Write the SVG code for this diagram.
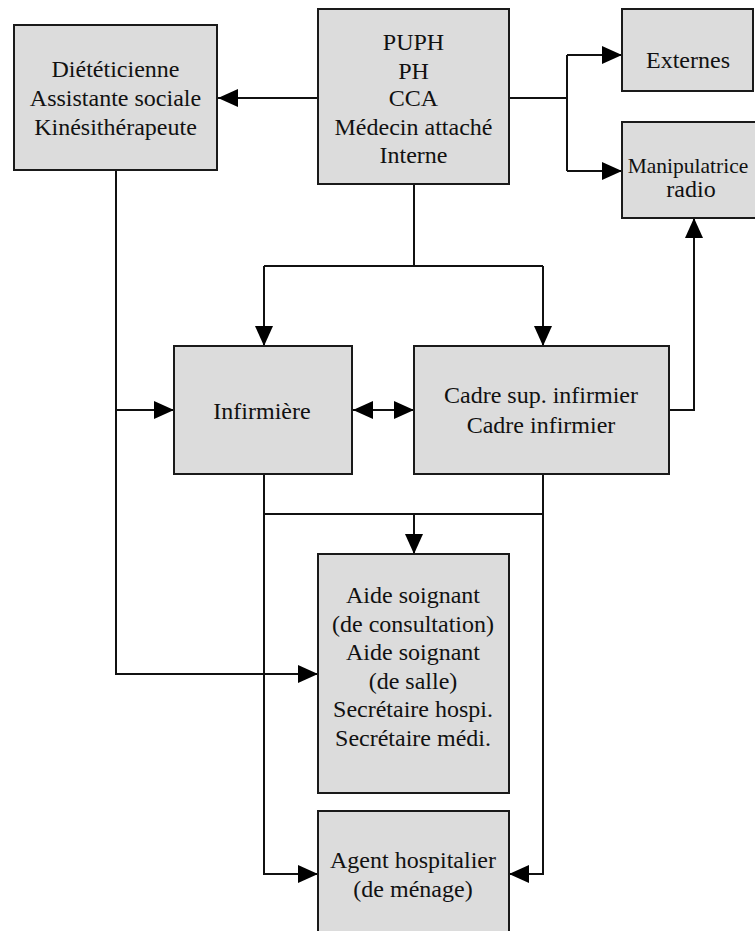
<svg xmlns="http://www.w3.org/2000/svg" width="755" height="931" viewBox="0 0 755 931">
<style>
.box{fill:#dcdcdc;stroke:#1a1a1a;stroke-width:2}
.lbl{font-family:"Liberation Serif","Times New Roman",serif;font-size:24px;fill:#111;text-anchor:middle}
.ln{fill:none;stroke:#111;stroke-width:2}
</style>
<defs>
<marker id="ah" markerUnits="userSpaceOnUse" markerWidth="20" markerHeight="18" refX="20" refY="9" orient="auto-start-reverse" viewBox="0 0 20 18">
<path d="M0,0 L20,9 L0,18 Z" fill="#000"/>
</marker>
</defs>
<rect width="755" height="931" fill="#fff"/>
<g id="connectors">
<path class="ln" d="M318,98 H218" marker-end="url(#ah)"/>
<path class="ln" d="M509,98 H567"/>
<path class="ln" d="M567,55 V171"/>
<path class="ln" d="M567,55 H622" marker-end="url(#ah)"/>
<path class="ln" d="M567,171 H622" marker-end="url(#ah)"/>
<path class="ln" d="M414,184 V266"/>
<path class="ln" d="M264,266 H543"/>
<path class="ln" d="M264,266 V346" marker-end="url(#ah)"/>
<path class="ln" d="M543,266 V346" marker-end="url(#ah)"/>
<path class="ln" d="M116,170 V674 H318" marker-end="url(#ah)"/>
<path class="ln" d="M116,410 H174" marker-end="url(#ah)"/>
<path class="ln" d="M353,410 H414" marker-start="url(#ah)" marker-end="url(#ah)"/>
<path class="ln" d="M669,410 H694 V218" marker-end="url(#ah)"/>
<path class="ln" d="M264,474 V874 H318" marker-end="url(#ah)"/>
<path class="ln" d="M264,514 H543"/>
<path class="ln" d="M543,474 V874 H509" marker-end="url(#ah)"/>
<path class="ln" d="M414,514 V554" marker-end="url(#ah)"/>
</g>
<g id="dieteticienne">
<rect class="box" x="14" y="25" width="203" height="145"/>
<text class="lbl" x="115.5" y="77">Diététicienne</text>
<text class="lbl" x="115.5" y="106">Assistante sociale</text>
<text class="lbl" x="115.5" y="134.5">Kinésithérapeute</text>
</g>
<g id="medecins">
<rect class="box" x="318" y="9" width="191" height="175"/>
<text class="lbl" x="413.5" y="50">PUPH</text>
<text class="lbl" x="413.5" y="78.5">PH</text>
<text class="lbl" x="413.5" y="106">CCA</text>
<text class="lbl" x="413.5" y="135">Médecin attaché</text>
<text class="lbl" x="413.5" y="163">Interne</text>
</g>
<g id="externes">
<rect class="box" x="622" y="9" width="131" height="82"/>
<text class="lbl" x="688" y="68">Externes</text>
</g>
<g id="manipulatrice">
<rect class="box" x="622" y="122" width="143" height="96"/>
<text class="lbl" x="688" y="173" style="font-size:21.5px">Manipulatrice</text>
<text class="lbl" x="691" y="197">radio</text>
</g>
<g id="infirmiere">
<rect class="box" x="174" y="346" width="178" height="128"/>
<text class="lbl" x="262" y="419">Infirmière</text>
</g>
<g id="cadre">
<rect class="box" x="414" y="346" width="255" height="128"/>
<text class="lbl" x="541" y="403">Cadre sup. infirmier</text>
<text class="lbl" x="541" y="433">Cadre infirmier</text>
</g>
<g id="aide-soignant">
<rect class="box" x="318" y="554" width="191" height="239"/>
<text class="lbl" x="413" y="603">Aide soignant</text>
<text class="lbl" x="413" y="631.5">(de consultation)</text>
<text class="lbl" x="413" y="660">Aide soignant</text>
<text class="lbl" x="413" y="688.5">(de salle)</text>
<text class="lbl" x="413" y="717">Secrétaire hospi.</text>
<text class="lbl" x="413" y="745.5">Secrétaire médi.</text>
</g>
<g id="agent">
<rect class="box" x="318" y="811" width="191" height="130"/>
<text class="lbl" x="413" y="868">Agent hospitalier</text>
<text class="lbl" x="413" y="897">(de ménage)</text>
</g>
</svg>
